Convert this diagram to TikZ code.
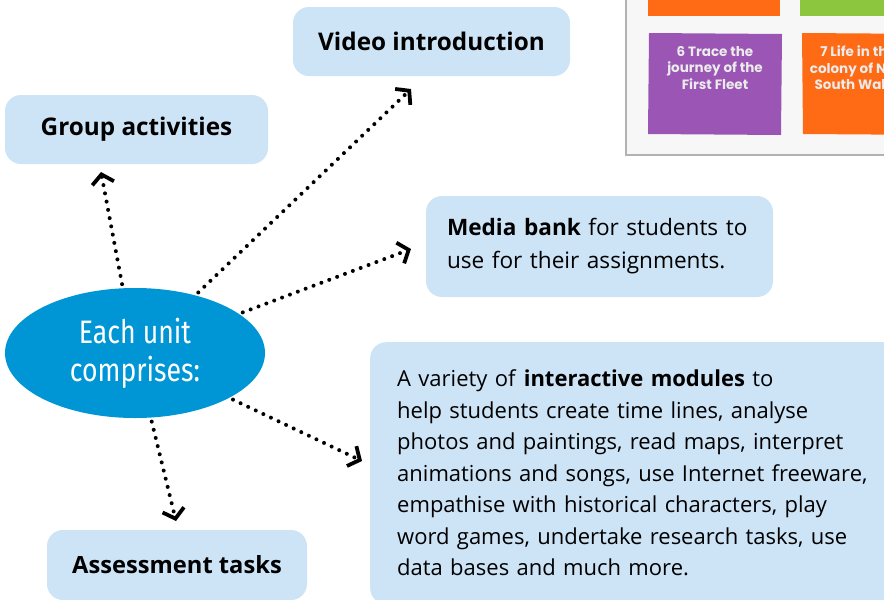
\documentclass[tikz,border=0pt]{standalone}
\usepackage{fontspec}
\setmainfont{Open Sans}
\newfontfamily\ellfont[FakeStretch=0.82]{Fira Sans}
\newfontfamily\thumbfont{Poppins}
\usetikzlibrary{shapes.geometric,arrows.meta}
\definecolor{boxblue}{HTML}{CDE3F6}
\definecolor{ellblue}{HTML}{0096D6}
\definecolor{thpurple}{HTML}{9A55B5}
\definecolor{thorange}{HTML}{FF6A14}
\definecolor{thgreen}{HTML}{8CC63F}
\tikzset{
  box/.style={rectangle, rounded corners=16pt, fill=boxblue, draw=none, font=\fontsize{22}{31.5}\selectfont, text=black},
  titlebox/.style={box, font=\fontsize{24.3}{28}\selectfont\bfseries},
  arr/.style={line width=4pt, line cap=round, dash pattern=on 0pt off 8.4pt, -{Straight Barb[length=9pt,width=22pt,line width=3.8pt]}},
  thumbtxt/.style={text=white!92!black, font=\thumbfont\bfseries\fontsize{13.5}{16.5}\selectfont, align=center},
}
\begin{document}
\begin{tikzpicture}[x=1pt,y=-1pt]
\useasboundingbox (0,0) rectangle (884,600);
% thumbnail at top right
\begin{scope}
\clip (0,0) rectangle (884,600);
\draw[draw=black!30, fill=black!3, line width=1.2pt] (626,-10) rectangle (900,155);
\fill[thorange] (648,-10) rectangle (780,16);
\fill[thgreen] (800,-10) rectangle (900,16);
\fill[thpurple] (649,33) -- (782,34) -- (781,135) -- (648,134) -- cycle;
\fill[thorange] (802,33) -- (940,34) -- (940,135) -- (803,134) -- cycle;
\node[thumbtxt] (t6) at (715,68) {6 Trace the\\journey of the\\First Fleet};
\node[thumbtxt] (t7) at (858,68) {7 Life in the\\colony of New\\South Wales};
\end{scope}
% boxes
\node[titlebox, minimum width=277pt, minimum height=69pt] (vid) at (431.5,41.5) {Video introduction};
\node[titlebox, minimum width=263pt, minimum height=69pt] (grp) at (136.5,129.5) {Group activities};
\node[box, minimum width=347pt, minimum height=101pt, text width=305pt, inner xsep=21pt, align=left, font=\fontsize{22.6}{33}\selectfont] (med) at (599.5,246.5) {\textbf{Media bank} for students to\\use for their assignments.};
\node[box, anchor=north west, minimum width=512pt, minimum height=262pt, text width=480pt, inner xsep=27pt, align=left] (int) at (370,342) {A variety of \textbf{interactive modules} to\\help students create time lines, analyse\\photos and paintings, read maps, interpret\\animations and songs, use Internet freeware,\\empathise with historical characters, play\\word games, undertake research tasks, use\\data bases and much more.};
\node[titlebox, minimum width=260pt, minimum height=70pt, font=\fontsize{23.7}{28}\selectfont\bfseries] (asm) at (177,565) {Assessment tasks};
% ellipse
\node[ellipse, fill=ellblue, minimum width=260pt, minimum height=130pt, inner sep=0pt, text=white, align=center, font=\ellfont\fontsize{32.5}{38}\selectfont] (e) at (135,353) {Each unit\\comprises:};
% arrow tips
\coordinate (tg) at (101,172);
\coordinate (tv) at (411,89);
\coordinate (tm) at (411,249);
\coordinate (ti) at (362,461);
\coordinate (ta) at (176,521);
\draw[arr, shorten <=4pt] (e) -- (tg);
\draw[arr, shorten <=4pt] (e) -- (tv);
\draw[arr, shorten <=4pt] (e) -- (tm);
\draw[arr, shorten <=4pt] (e) -- (ti);
\draw[arr, shorten <=4pt] (e) -- (ta);
\end{tikzpicture}
\end{document}
